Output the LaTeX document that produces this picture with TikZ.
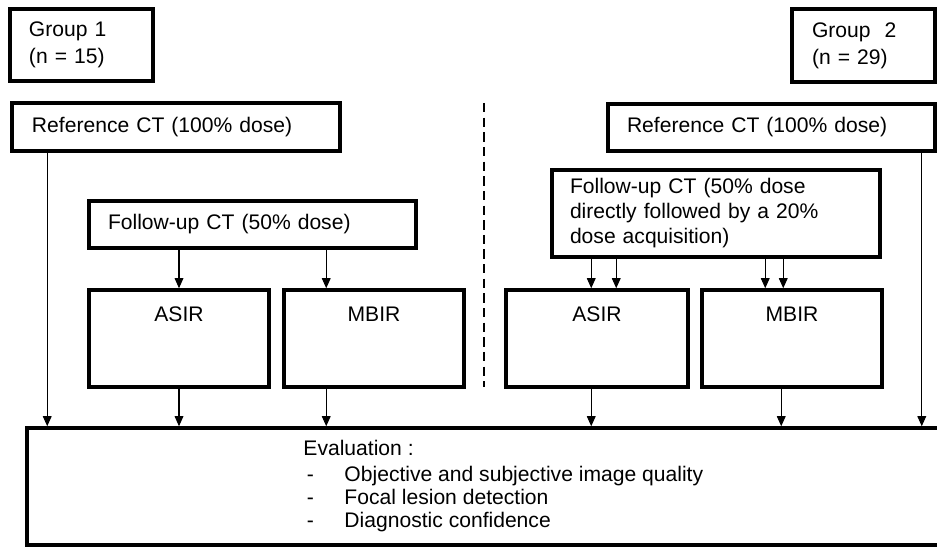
\documentclass[tikz,border=0pt]{standalone}
\usepackage{fontspec}
\setmainfont{Liberation Sans}
\usetikzlibrary{arrows.meta}
\tikzstyle{box} = [rectangle, draw=black, line width=3pt, inner sep=0pt, align=left]
\tikzstyle{recon} = [box, minimum width=5.4cm, minimum height=2.91cm]
\tikzstyle{arrow} = [line width=0.9pt,-{Triangle[length=3mm,width=2.6mm]}]
\tikzstyle{divider} = [line width=1.2pt, dash pattern=on 8pt off 4.5pt]

\begin{document}
\begin{tikzpicture}[x=0.3mm,y=-0.3mm,font=\fontsize{18}{23}\selectfont,
  every label/.style={anchor=north,yshift=-0.42cm,text height=13pt,text depth=0pt}]
\useasboundingbox (0,0) rectangle (937,547);

% the two groups
\node[box, minimum width=4.29cm, minimum height=2.16cm, text width=3.15cm] (grp1) at (81.5,45) {Group 1\\(n = 15)};
\node[box, minimum width=4.29cm, minimum height=2.19cm, text width=3.09cm] (grp2) at (863.5,45.5) {Group\ \ 2\\(n = 29)};

\node[box, minimum width=9.84cm, minimum height=1.44cm, text width=8.64cm] (ref1) at (176,127) {Reference CT (100\% dose)};
\node[box, minimum width=9.81cm, minimum height=1.41cm, text width=8.67cm] (ref2) at (771.5,127.5) {Reference CT (100\% dose)};

\node[box, minimum width=9.81cm, minimum height=1.41cm, text width=8.67cm] (fu1) at (252.5,224.5) {Follow-up CT (50\% dose)};
\node[box, minimum width=9.84cm, minimum height=2.61cm, text width=8.76cm, font=\fontsize{18}{21.3}\selectfont] (fu2) at (716,213.5)
  {Follow-up CT (50\% dose\\directly followed by a 20\%\\dose acquisition)};

% reconstructions
\node[recon, label={north:ASIR}] (asir1) at (179,338.5) {};
\node[recon, label={north:MBIR}] (mbir1) at (374,338.5) {};
\node[recon, minimum width=5.46cm, label={north:ASIR}] (asir2) at (597,338.5) {};
\node[recon, label={north:MBIR}] (mbir2) at (792,338.5) {};

\draw[divider] (484,103) -- (484,387);

% evaluation
\node[box, minimum width=27.69cm, minimum height=3.51cm] (eval) at (488.5,486.5) {};
\node[anchor=north west, inner sep=0pt, align=left, font=\fontsize{18}{19.6}\selectfont] (evaltext) at ([xshift=8.34cm,yshift=-0.42cm]eval.north west)
  {Evaluation :\\[0.09cm]
   \makebox[1.23cm][l]{\hspace{0.1cm}-}Objective and subjective image quality\\
   \makebox[1.23cm][l]{\hspace{0.1cm}-}Focal lesion detection\\
   \makebox[1.23cm][l]{\hspace{0.1cm}-}Diagnostic confidence};

% group 1 arrows
\coordinate (r1) at ([xshift=1.11cm]ref1.south west);
\draw[arrow] (r1) -- (r1 |- eval.north);
\draw[arrow] (asir1.north |- fu1.south) -- (asir1.north);
\draw[arrow] (asir1.south) -- (asir1.south |- eval.north);
\coordinate (m1) at ([xshift=1.32cm]mbir1.north west);
\draw[arrow] (m1 |- fu1.south) -- (m1);
\draw[arrow] (m1 |- mbir1.south) -- (m1 |- eval.north);

% group 2 arrows
\foreach \dx/\nm in {2.61/a,3.36/b}{
  \coordinate (asir2\nm) at ([xshift=\dx cm]asir2.north west);
  \draw[arrow] (asir2\nm |- fu2.south) -- (asir2\nm);
}
\foreach \dx/\nm in {1.95/a,2.49/b}{
  \coordinate (mbir2\nm) at ([xshift=\dx cm]mbir2.north west);
  \draw[arrow] (mbir2\nm |- fu2.south) -- (mbir2\nm);
}
\draw[arrow] (asir2a |- asir2.south) -- (asir2a |- eval.north);
\coordinate (m2) at ([xshift=2.43cm]mbir2.south west);
\draw[arrow] (m2) -- (m2 |- eval.north);
\coordinate (r2) at ([xshift=-0.45cm]ref2.south east);
\draw[arrow] (r2) -- (r2 |- eval.north);
\end{tikzpicture}
\end{document}
